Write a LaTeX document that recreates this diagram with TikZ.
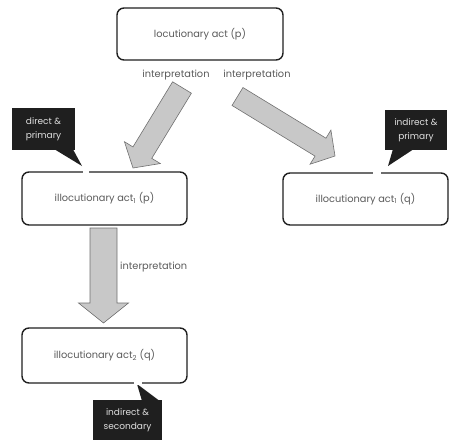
\documentclass[tikz,border=0pt]{standalone}
\usepackage{fontspec}
\setmainfont{Poppins}
\usetikzlibrary{calc}
\definecolor{txtgrey}{HTML}{5A5A5A}
\definecolor{arrfill}{HTML}{C8C8C8}
\definecolor{arrline}{HTML}{707070}
\definecolor{boxline}{HTML}{202020}
\tikzset{
  actbox/.style={draw=boxline, line width=1.4pt, rounded corners=7pt, fill=white, inner sep=0pt},
  acttext/.style={text=txtgrey, font=\fontsize{9.8}{11}\selectfont},
  lbl/.style={text=txtgrey, font=\fontsize{9.8}{11}\selectfont, inner sep=0pt},
  callbox/.style={fill=black!88, text=white!88!black, font=\fontsize{9}{14}\selectfont, align=center, inner sep=0pt},
  calltail/.style={fill=black!88},
  blockarrow/.style={fill=arrfill, draw=arrline, line width=0.6pt, line join=miter},
  gap/.style={draw=white, line width=2.5pt}
}
\newcommand{\blockarr}[5]{%
  \coordinate (ba-h) at ($(#2)!#5!(#1)$);
  \filldraw[blockarrow] ($(#1)!#3!90:(#2)$) -- ($(ba-h)!#3!-90:(#1)$) -- ($(ba-h)!#4!-90:(#1)$) -- (#2) -- ($(ba-h)!#4!90:(#1)$) -- ($(ba-h)!#3!90:(#1)$) -- ($(#1)!#3!-90:(#2)$) -- cycle;}
\begin{document}
\begin{tikzpicture}[x=1pt,y=-1pt]
\fill[white] (0,0) rectangle (452,442);
\useasboundingbox (0,0) rectangle (452,442);

% act boxes
\node[actbox, minimum width=166pt, minimum height=52pt] (loc) at (200,34) {};
\node[acttext] at (loc.center) {locutionary act (p)};
\node[actbox, minimum width=165pt, minimum height=53pt] (ill1p) at (104.5,198.5) {};
\node[acttext] at (ill1p.center) {illocutionary act\textsubscript{1} (p)};
\node[actbox, minimum width=165pt, minimum height=52pt] (ill1q) at (365.5,199) {};
\node[acttext] at (ill1q.center) {illocutionary act\textsubscript{1} (q)};
\node[actbox, minimum width=165pt, minimum height=55pt] (ill2q) at (104.5,355.5) {};
\node[acttext] at (ill2q.center) {illocutionary act\textsubscript{2} (q)};

% interpretation labels
\node[lbl] (int1) at (176,75) {interpretation};
\node[lbl] (int2) at (257,75) {interpretation};
\node[lbl, anchor=west] (int3) at (120,267) {interpretation};

% block arrows
\coordinate (a1s) at (182,87.5);
\coordinate (a1e) at (133,168);
\blockarr{a1s}{a1e}{11pt}{21pt}{18pt}
\coordinate (a2s) at (237.5,96.5);
\coordinate (a2e) at (335,156);
\blockarr{a2s}{a2e}{10.5pt}{20pt}{17pt}
\coordinate (a3s) at (103.5,228);
\coordinate (a3e) at (103.5,323);
\blockarr{a3s}{a3e}{13.5pt}{25pt}{20pt}

% callouts
\node[callbox, minimum width=63pt, minimum height=42pt] (c1) at (43.5,129) {direct \&\\primary};
\coordinate (c1t) at (82,166);
\fill[calltail] ($(c1.south east)+(-20,-0.5)$) -- (c1t) -- ($(c1.south east)+(-2,-0.5)$) -- cycle;
\draw[gap] ($(ill1p.north west)+(61.5,0)$) -- ($(ill1p.north west)+(67.5,0)$);

\node[callbox, minimum width=62pt, minimum height=40pt] (c2) at (416,130) {indirect \&\\primary};
\coordinate (c2t) at (388,166);
\fill[calltail] ($(c2.south west)+(8,-0.5)$) -- (c2t) -- ($(c2.south west)+(28,-0.5)$) -- cycle;
\draw[gap] ($(ill1q.north west)+(91,0)$) -- ($(ill1q.north west)+(99,0)$);

\node[callbox, minimum width=69pt, minimum height=40pt] (c3) at (127.5,420) {indirect \&\\secondary};
\coordinate (c3t) at (137,384);
\fill[calltail] ($(c3.north west)+(49,0.5)$) -- (c3t) -- ($(c3.north west)+(66,0.5)$) -- cycle;
\draw[gap] ($(ill2q.south west)+(113,0)$) -- ($(ill2q.south west)+(121,0)$);
\end{tikzpicture}
\end{document}
